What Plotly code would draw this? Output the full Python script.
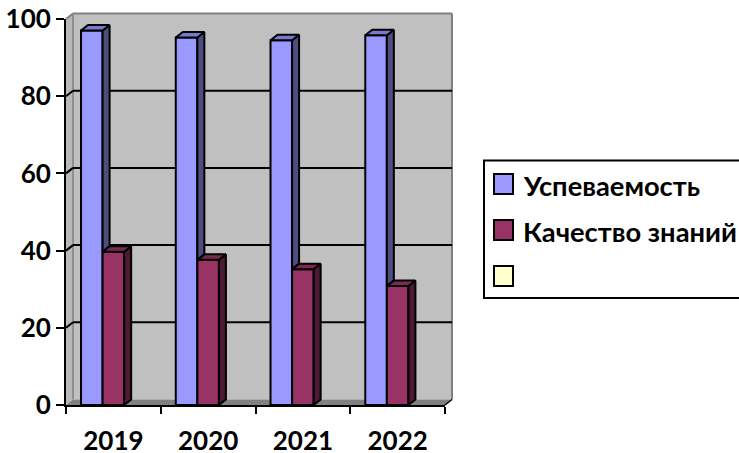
import plotly.graph_objects as go

# ---- data ----
categories = ["2019", "2020", "2021", "2022"]
uspevaemost = [97, 95.2, 94.5, 95.8]
kachestvo = [39.7, 37.6, 35.2, 30.8]
empty_series = [None, None, None, None]
series_names = ["Успеваемость", "Качество знаний", ""]
y_ticks = [0, 20, 40, 60, 80, 100]

# ---- style ----
FONT = "Lato, 'Noto Sans', sans-serif"
FRONT = ["#9999ff", "#993366", "#ffffcc"]
TOP = ["#7a7acc", "#7a2952"]
SIDE = ["#4d4d80", "#4d1933"]
WALL = "#c0c0c0"
EDGE = "#808080"
W, H = 739, 453
L, R, T, B = 66, 445, 19, 405
PXU = (R - L) / len(categories)      # pixels per category
PYU = (B - T) / 100                  # pixels per value unit
DX = 7 / PXU                         # 3-D depth in axis units
DY = 5.5 / PYU
GAP = 0.317
BW = (1 - GAP) / 3
LW = 2


def px(x):
    return (x - L) / (R - L)


def py(y):
    return (B - y) / (B - T)


def path(points):
    # points in axis units -> paper fractions
    n = len(categories)
    return "M" + "L".join(f"{x / n:.5f},{y / 100:.5f}" for x, y in points) + "Z"


shapes = []


def poly(points, fill, line=None, w=0):
    shapes.append(dict(type="path", xref="paper", yref="paper", layer="below",
                       path=path(points), fillcolor=fill,
                       line=dict(color=line or fill, width=w)))


def seg(x0, y0, x1, y1, color, w):
    shapes.append(dict(type="line", xref="paper", yref="paper", layer="below",
                       x0=x0 / len(categories), x1=x1 / len(categories),
                       y0=y0 / 100, y1=y1 / 100, line=dict(color=color, width=w)))


n = len(categories)
# back wall, left wall, floor
poly([(DX, DY), (n + DX, DY), (n + DX, 100 + DY), (DX, 100 + DY)], WALL)
poly([(0, 0), (DX, DY), (DX, 100 + DY), (0, 100)], "#b8b8b8")
poly([(0, 0), (n, 0), (n + DX, DY), (DX, DY)], EDGE)
seg(DX, 100 + DY, n + DX, 100 + DY, EDGE, 2)
seg(0, 100, DX, 100 + DY, EDGE, 2)
seg(DX, DY, DX, 100 + DY, EDGE, 1.5)
seg(n + DX, DY, n + DX, 100 + DY, EDGE, 2)
seg(n, 0, n + DX, DY, "#000000", 1.5)
# gridlines
for t in y_ticks[1:-1]:
    seg(DX, t + DY, n + DX, t + DY, "#000000", LW)
    seg(0, t, DX, t + DY, "#000000", LW)

fig = go.Figure()
for name, vals, col in zip(series_names, [uspevaemost, kachestvo, empty_series], FRONT):
    fig.add_trace(go.Bar(x=[i + 0.5 for i in range(n)], y=vals, name=name, showlegend=False,
                         marker=dict(color=col, line=dict(color="#000000", width=LW)),
                         cliponaxis=False, hoverinfo="y"))


def face(points, fill):
    xs = [p[0] for p in points] + [points[0][0]]
    ys = [p[1] for p in points] + [points[0][1]]
    fig.add_trace(go.Scatter(x=xs, y=ys, mode="lines", fill="toself", fillcolor=fill,
                             line=dict(color="#000000", width=LW), cliponaxis=False,
                             showlegend=False, hoverinfo="skip"))


for i in range(n):
    a = i + 0.5 - BW * 1.5       # left of blue bar
    b = a + BW                   # blue/maroon boundary
    c = b + BW                   # right of maroon bar
    v1, v2 = uspevaemost[i], kachestvo[i]
    # blue side stops where it disappears behind the maroon bar
    face([(b, v2), (b, v1), (b + DX, v1 + DY), (b + DX, v2 + DY)], SIDE[0])
    face([(a, v1), (b, v1), (b + DX, v1 + DY), (a + DX, v1 + DY)], TOP[0])
    face([(c, 0), (c, v2), (c + DX, v2 + DY), (c + DX, DY)], SIDE[1])
    face([(b, v2), (c, v2), (c + DX, v2 + DY), (b + DX, v2 + DY)], TOP[1])

# ---- legend drawn by hand so it can run off the right edge as in the reference ----
shapes.append(dict(type="rect", xref="paper", yref="paper", layer="above",
                   x0=px(484), x1=px(760), y0=py(298), y1=py(160.5),
                   fillcolor="#ffffff", line=dict(color="#000000", width=2)))
annotations = []
for k, (name, col) in enumerate(zip(series_names, FRONT)):
    yc = 184 + 46 * k
    shapes.append(dict(type="rect", xref="paper", yref="paper", layer="above",
                       x0=px(494), x1=px(513), y0=py(yc + 10), y1=py(yc - 10),
                       fillcolor=col, line=dict(color="#000000", width=2)))
    if name:
        annotations.append(dict(x=px(521), y=py(yc + 1.5), xref="paper", yref="paper", text=name,
                                showarrow=False, xanchor="left", yanchor="middle",
                                font=dict(family=FONT, size=27.3, color="#000000", weight="bold")))

fig.update_layout(
    width=W, height=H, autosize=False,
    margin=dict(l=L, r=W - R, t=T, b=H - B, pad=0),
    paper_bgcolor="#ffffff", plot_bgcolor="rgba(0,0,0,0)",
    barmode="group", bargap=GAP, bargroupgap=0,
    shapes=shapes, annotations=annotations, showlegend=False,
    font=dict(family=FONT, color="#000000"),
    xaxis=dict(automargin=False, range=[0, n], tickmode="array", tickvals=[i + 0.5 for i in range(n)],
               ticktext=categories, ticks="outside", ticklen=12, tickcolor="rgba(0,0,0,0)",
               tickfont=dict(family=FONT, size=26, weight="bold"),
               showgrid=False, zeroline=False, showline=True, linecolor="#000000", linewidth=2,
               minor=dict(tickmode="array", tickvals=list(range(n + 1)), ticks="outside",
                          ticklen=7, tickcolor="#000000", tickwidth=2, showgrid=False)),
    yaxis=dict(automargin=False, range=[0, 100], tickmode="array", tickvals=y_ticks, ticks="outside", ticklen=8,
               tickcolor="#000000", tickwidth=2,
               tickfont=dict(family=FONT, size=26, weight="bold"),
               showgrid=False, zeroline=False, showline=True, linecolor="#000000", linewidth=2),
)

# the browser's default 8px page margin would otherwise push the figure off the window
fig.write_html("out.html", config={"displayModeBar": False},
               post_script="document.body.style.margin='0';")
